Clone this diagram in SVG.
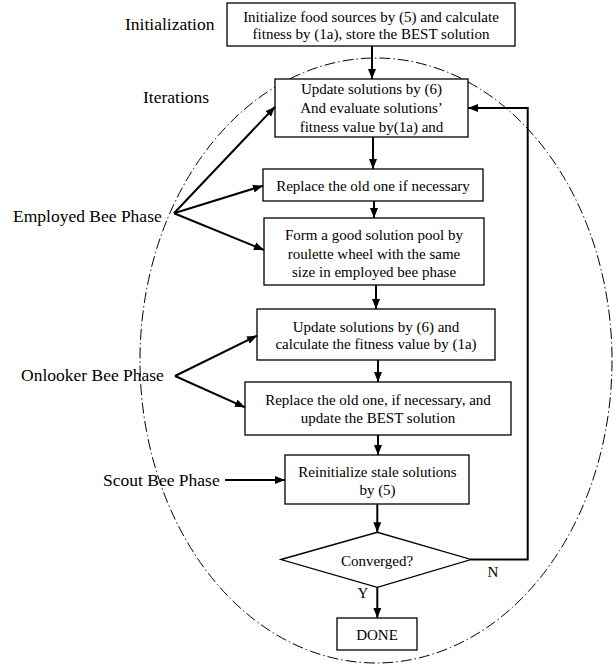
<svg xmlns="http://www.w3.org/2000/svg" width="615" height="666" viewBox="0 0 615 666">
<defs>
<style>
.box{fill:#fff;stroke:#000;stroke-width:1.3}
.t{font-family:"Liberation Serif","Times New Roman",serif;font-size:15px;fill:#000;text-anchor:middle}
.lbl{font-family:"Liberation Serif","Times New Roman",serif;font-size:17.5px;fill:#000}
.c{fill:none;stroke:#000;stroke-width:2}
</style>
<marker id="ah" viewBox="0 0 10 10" refX="10" refY="5" markerWidth="10" markerHeight="10" markerUnits="userSpaceOnUse" orient="auto">
<path d="M0,1 L10,5 L0,9 Z" fill="#000"/>
</marker>
</defs>
<rect width="615" height="666" fill="#fff"/>
<ellipse id="iteration-boundary" cx="376" cy="360.5" rx="236" ry="302.5" fill="none" stroke="#000" stroke-width="1" stroke-dasharray="11 3 1.5 3"/>
<g id="labels">
<text class="lbl" x="125" y="30">Initialization</text>
<text class="lbl" x="143" y="103">Iterations</text>
<text class="lbl" x="13" y="221.5">Employed Bee Phase</text>
<text class="lbl" x="21" y="381">Onlooker Bee Phase</text>
<text class="lbl" x="103" y="485.5">Scout Bee Phase</text>
</g>
<g id="n-init">
<rect class="box" x="227" y="3" width="288" height="43"/>
<text class="t" x="371" y="21.5">Initialize food sources by (5) and calculate</text>
<text class="t" x="371" y="38.5">fitness by (1a), store the BEST solution</text>
</g>
<g id="n-update1">
<rect class="box" x="275" y="79" width="193" height="58"/>
<text class="t" x="371.5" y="93.5">Update solutions by (6)</text>
<text class="t" x="371.5" y="113">And evaluate solutions’</text>
<text class="t" x="371.5" y="132">fitness value by(1a) and</text>
</g>
<g id="n-replace1">
<rect class="box" x="263" y="169" width="220" height="32"/>
<text class="t" x="373" y="190.5">Replace the old one if necessary</text>
</g>
<g id="n-pool">
<rect class="box" x="264" y="218" width="220" height="67"/>
<text class="t" x="374" y="240">Form a good solution pool by</text>
<text class="t" x="374" y="258.5">roulette wheel with the same</text>
<text class="t" x="374" y="277">size in employed bee phase</text>
</g>
<g id="n-update2">
<rect class="box" x="257" y="309" width="238" height="51"/>
<text class="t" x="376" y="331.5">Update solutions by (6) and</text>
<text class="t" x="376" y="349">calculate the fitness value by (1a)</text>
</g>
<g id="n-replace2">
<rect class="box" x="245" y="382" width="266" height="53"/>
<text class="t" x="378" y="405">Replace the old one, if necessary, and</text>
<text class="t" x="378" y="423">update the BEST solution</text>
</g>
<g id="n-scout">
<rect class="box" x="285" y="455" width="184" height="49"/>
<text class="t" x="377.5" y="476.5">Reinitialize stale solutions</text>
<text class="t" x="377.5" y="495">by (5)</text>
</g>
<g id="n-converged">
<polygon class="box" points="281,559.5 377.3,532.3 471,559.5 377.3,587.3"/>
<text class="t" x="377" y="565.5">Converged?</text>
</g>
<g id="n-done">
<rect class="box" x="337" y="618" width="80" height="32"/>
<text class="t" x="377" y="640">DONE</text>
</g>
<g id="connectors">
<line class="c" x1="372" y1="46" x2="372" y2="79" marker-end="url(#ah)"/>
<line class="c" x1="373" y1="137" x2="373" y2="169" marker-end="url(#ah)"/>
<line class="c" x1="374" y1="201" x2="374" y2="218" marker-end="url(#ah)"/>
<line class="c" x1="376" y1="285" x2="376" y2="309" marker-end="url(#ah)"/>
<line class="c" x1="378" y1="360" x2="378" y2="382" marker-end="url(#ah)"/>
<line class="c" x1="378" y1="435" x2="378" y2="455" marker-end="url(#ah)"/>
<line class="c" x1="377.3" y1="504" x2="377.3" y2="532.3" marker-end="url(#ah)"/>
<line class="c" x1="377.3" y1="587.3" x2="377.3" y2="618" marker-end="url(#ah)"/>
<polyline class="c" points="471,559.5 527.7,559.5 527.7,108 468,108" marker-end="url(#ah)"/>
<line class="c" x1="174" y1="213.3" x2="275" y2="106.7" marker-end="url(#ah)"/>
<line class="c" x1="174" y1="213.3" x2="263" y2="185.7" marker-end="url(#ah)"/>
<line class="c" x1="174" y1="213.3" x2="264" y2="250" marker-end="url(#ah)"/>
<line class="c" x1="175" y1="376" x2="257" y2="335.7" marker-end="url(#ah)"/>
<line class="c" x1="175" y1="376" x2="245" y2="407.3" marker-end="url(#ah)"/>
<line class="c" x1="225" y1="480" x2="285" y2="480" marker-end="url(#ah)"/>
<text class="t" x="363" y="598">Y</text>
<text class="t" x="493" y="577">N</text>
</g>
</svg>
